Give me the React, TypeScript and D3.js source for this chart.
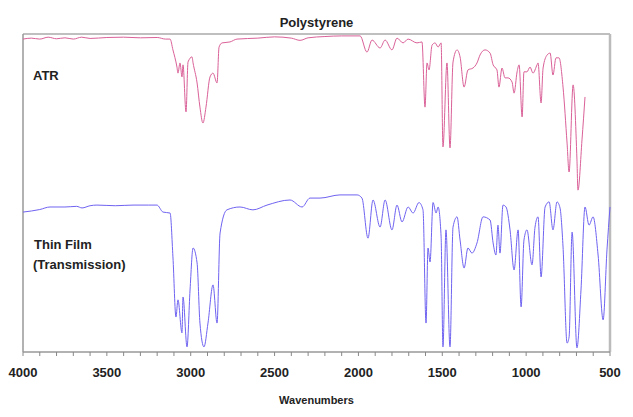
import * as d3 from 'd3';

// wavenumber (cm-1) and relative transmittance (arbitrary, 0-100 of the plot height)
const atrWave = [4000, 3950, 3900, 3850, 3800, 3750, 3700, 3650, 3600, 3500, 3400, 3300, 3200, 3150, 3123, 3106, 3082, 3076, 3064, 3052, 3046, 3028, 3016, 2992, 2986, 2962, 2945, 2927, 2909, 2885, 2867, 2843, 2831, 2813, 2766, 2724, 2600, 2500, 2400, 2348, 2300, 2200, 2100, 1990, 1949, 1919, 1871, 1841, 1800, 1770, 1734, 1704, 1651, 1621, 1603, 1591, 1579, 1561, 1543, 1525, 1507, 1496, 1472, 1454, 1436, 1412, 1394, 1370, 1347, 1317, 1293, 1275, 1245, 1215, 1197, 1174, 1162, 1144, 1126, 1108, 1084, 1072, 1054, 1042, 1024, 1013, 995, 977, 959, 935, 929, 911, 899, 875, 857, 840, 822, 804, 780, 756, 744, 720, 697, 691, 667, 649];
const atrT = [98.4, 98.7, 98.4, 99.0, 98.5, 98.8, 98.4, 99.0, 98.6, 98.9, 99.0, 98.8, 98.9, 98.4, 98.4, 95.0, 89.6, 87.7, 90.9, 86.5, 90.3, 75.5, 91.2, 92.8, 90.9, 84.6, 77.0, 72.0, 77.0, 86.5, 87.7, 84.6, 95.9, 97.2, 97.5, 98.4, 98.7, 99.1, 98.7, 98.0, 98.8, 99.2, 99.4, 99.4, 94.3, 98.1, 95.6, 98.1, 95.0, 98.7, 97.2, 98.4, 97.2, 97.5, 77.0, 90.9, 88.7, 96.5, 97.2, 95.9, 97.2, 64.5, 90.9, 64.2, 91.2, 95.0, 92.8, 83.3, 88.7, 89.3, 90.9, 93.4, 95.0, 94.0, 90.3, 88.7, 83.3, 89.3, 86.2, 86.2, 84.9, 81.4, 88.1, 90.3, 73.9, 88.1, 88.1, 89.6, 87.7, 90.3, 90.9, 78.3, 89.3, 93.4, 94.0, 87.1, 92.5, 92.5, 83.3, 65.7, 56.6, 84.0, 60.4, 50.9, 66.7, 80.2];

const filmWave = [4000, 3900, 3839, 3750, 3680, 3648, 3600, 3559, 3450, 3344, 3250, 3201, 3165, 3123, 3106, 3088, 3076, 3052, 3046, 3022, 3004, 2986, 2962, 2945, 2921, 2897, 2867, 2843, 2825, 2784, 2706, 2629, 2545, 2408, 2336, 2289, 2229, 2110, 2008, 1979, 1943, 1913, 1871, 1841, 1800, 1770, 1740, 1704, 1674, 1639, 1615, 1597, 1585, 1573, 1555, 1537, 1525, 1507, 1496, 1478, 1454, 1436, 1412, 1394, 1370, 1347, 1323, 1293, 1257, 1215, 1197, 1180, 1168, 1156, 1138, 1120, 1096, 1072, 1048, 1030, 1013, 995, 965, 947, 929, 911, 887, 863, 840, 816, 798, 780, 756, 744, 726, 697, 673, 649, 625, 601, 571, 541, 518, 500];
const filmT = [44.0, 44.8, 45.6, 45.6, 45.8, 45.3, 46.0, 46.2, 46.0, 46.2, 46.2, 46.2, 44.0, 43.7, 29.9, 11.0, 16.4, 6.0, 17.3, 1.6, 19.5, 32.7, 28.0, 9.1, 1.6, 9.1, 21.1, 9.1, 37.4, 44.7, 45.6, 44.7, 46.2, 47.8, 45.6, 48.4, 48.4, 49.4, 49.4, 48.4, 35.8, 47.8, 39.3, 47.8, 38.4, 46.2, 40.9, 45.6, 43.7, 47.0, 44.7, 9.1, 32.7, 28.3, 47.0, 43.7, 45.6, 36.2, 1.6, 38.4, 1.6, 39.3, 42.5, 35.2, 26.4, 32.7, 31.1, 34.3, 42.5, 41.5, 34.3, 30.5, 39.9, 31.1, 46.2, 45.6, 38.4, 25.8, 38.4, 14.2, 35.2, 38.4, 27.4, 39.3, 42.5, 23.6, 45.6, 47.2, 38.4, 47.2, 45.3, 33.0, 2.8, 4.7, 37.7, 1.3, 19.5, 45.6, 39.9, 42.5, 30.5, 10.1, 32.1, 45.6];

const xTicks = [4000, 3500, 3000, 2500, 2000, 1500, 1000, 500];
const xMinorTicks = d3.range(4000, 499, -100);

const W = 633;
const H = 417;
const margin = { top: 34, right: 23, bottom: 65, left: 23 };

export default function App() {
  const x = d3.scaleLinear().domain([4000, 500]).range([margin.left, W - margin.right]);
  const y = d3.scaleLinear().domain([0, 100]).range([H - margin.bottom, margin.top]);

  // pixel x increases as wavenumber falls, so monotoneX is fine here
  const line = d3.line<[number, number]>()
    .x(d => x(d[0]))
    .y(d => y(d[1]))
    .curve(d3.curveMonotoneX);

  const atr = atrWave.map((w, i) => [w, atrT[i]] as [number, number]);
  const film = filmWave.map((w, i) => [w, filmT[i]] as [number, number]);

  const x0 = x(4000);
  const x1 = x(500);
  const yTop = y(100);
  const yBot = y(0);

  return (
    <svg width={W} height={H} style={{ position: 'absolute', left: 0, top: 0, background: '#fff' }}
      fontFamily="'Liberation Sans', Arial, sans-serif">
      <text x={(x0 + x1) / 2} y={27} textAnchor="middle" fontSize={13} fontWeight="bold" fill="#222">Polystyrene</text>

      {/* frame */}
      <line x1={x0} x2={x1} y1={yTop} y2={yTop} stroke="#aaa" strokeWidth={1.5} />
      <line x1={x1} x2={x1} y1={yTop} y2={yBot} stroke="#bbb" strokeWidth={2.5} />
      <line x1={x0} x2={x0} y1={yTop} y2={yBot} stroke="#999" strokeWidth={1.5} />
      <line x1={x0} x2={x1} y1={yBot} y2={yBot} stroke="#999" strokeWidth={1.5} />

      {xMinorTicks.map(t => (
        <line key={t} x1={x(t)} x2={x(t)} y1={yBot} y2={yBot + 4} stroke="#888" strokeWidth={1} />
      ))}
      {xTicks.map(t => (
        <text key={t} x={x(t)} y={yBot + 25} textAnchor="middle" fontSize={13} fontWeight="bold" fill="#222">{t}</text>
      ))}
      <text x={(x0 + x1) / 2} y={404} textAnchor="middle" fontSize={11} fontWeight="bold" fill="#222">Wavenumbers</text>

      <path d={line(atr) as string} fill="none" stroke="#da6198" strokeWidth={1} strokeLinejoin="round" />
      <path d={line(film) as string} fill="none" stroke="#6f63f1" strokeWidth={1} strokeLinejoin="round" />

      <text x={33} y={80} fontSize={13} fontWeight="bold" fill="#222">ATR</text>
      <text x={34} y={249} fontSize={13} fontWeight="bold" fill="#222">Thin Film</text>
      <text x={33} y={269} fontSize={13} fontWeight="bold" fill="#222">(Transmission)</text>
    </svg>
  );
}
